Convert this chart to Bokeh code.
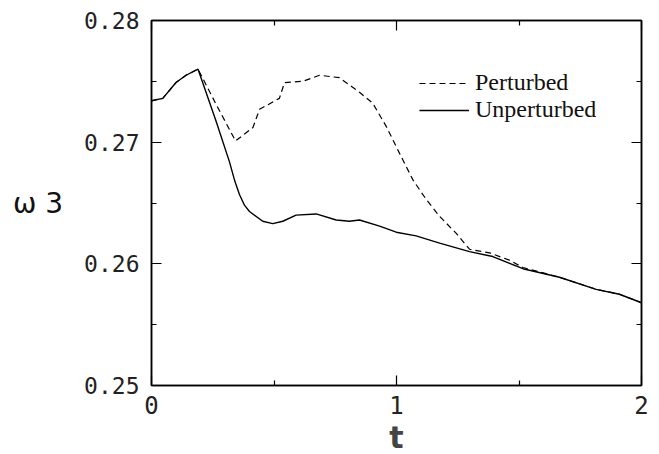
from bokeh.plotting import figure
from bokeh.models import (LinearAxis, FixedTicker, Range1d, Legend, LegendItem)
from bokeh.embed import file_html
from bokeh.resources import INLINE

# ---- data ----
t_unperturbed = [0.0, 0.046, 0.10, 0.141, 0.19, 0.264, 0.318, 0.34, 0.359, 0.38, 0.40, 0.454,
                 0.495, 0.536, 0.59, 0.672, 0.754, 0.808, 0.849, 0.931, 0.999, 1.08, 1.176,
                 1.298, 1.393, 1.516, 1.665, 1.815, 1.91, 2.0]
w3_unperturbed = [0.2734, 0.2736, 0.2749, 0.2755, 0.2760, 0.2717, 0.2684, 0.2668, 0.2657,
                  0.2648, 0.2643, 0.2635, 0.2633, 0.2635, 0.2640, 0.2641, 0.2636, 0.2635,
                  0.2636, 0.2631, 0.2626, 0.2623, 0.2617, 0.2610, 0.2606, 0.2596, 0.2589,
                  0.2579, 0.2575, 0.2568]

t_perturbed = [0.0, 0.046, 0.10, 0.141, 0.19, 0.264, 0.343, 0.414, 0.441, 0.522, 0.543,
               0.617, 0.686, 0.767, 0.849, 0.903, 0.958, 1.012, 1.067, 1.121, 1.176,
               1.244, 1.298, 1.38, 1.461, 1.516, 1.665, 1.815, 1.91, 2.0]
w3_perturbed = [0.2734, 0.2736, 0.2749, 0.2755, 0.2760, 0.2731, 0.2701, 0.2712, 0.2727,
                0.2736, 0.2749, 0.2750, 0.2755, 0.2753, 0.2741, 0.2732, 0.2713, 0.2691,
                0.2669, 0.2653, 0.2639, 0.2625, 0.2612, 0.2609, 0.2603, 0.2597, 0.2589,
                0.2579, 0.2575, 0.2568]

x_major = [0, 1, 2]
x_minor = [0.5, 1.5]
y_major = [0.25, 0.26, 0.27, 0.28]
y_minor = [0.255, 0.265, 0.275]
y_labels = {0.25: "0.25", 0.26: "0.26", 0.27: "0.27", 0.28: "0.28"}

series_names = ["Perturbed", "Unperturbed"]
x_label = "t"
y_label = "ω 3"

p = figure(frame_width=490, frame_height=365, output_backend="svg", toolbar_location=None,
           x_range=Range1d(0, 2), y_range=Range1d(0.25, 0.28),
           x_axis_location=None, y_axis_location=None,
           min_border_left=151, min_border_top=20, min_border_right=10, min_border_bottom=10)
p.background_fill_color = "white"
p.border_fill_color = "white"
p.outline_line_color = "black"
p.outline_line_width = 1.5
p.xgrid.visible = False
p.ygrid.visible = False

xt = FixedTicker(ticks=x_major, minor_ticks=x_minor)
yt = FixedTicker(ticks=y_major, minor_ticks=y_minor)

def style(ax, labels=True):
    ax.axis_line_color = "black"
    ax.axis_line_width = 1.5
    ax.major_tick_in = 10
    ax.major_tick_out = 0
    ax.minor_tick_in = 5
    ax.minor_tick_out = 0
    ax.major_tick_line_color = "black"
    ax.minor_tick_line_color = "black"
    ax.major_tick_line_width = 1.2
    ax.minor_tick_line_width = 1.2
    if not labels:
        ax.major_label_text_color = None
        ax.major_label_text_font_size = "0px"

left = LinearAxis(ticker=yt, major_label_overrides=y_labels, axis_label=y_label)
style(left)
left.major_label_text_font = "DejaVu Sans Mono"
left.major_label_text_font_size = "23px"
left.major_label_text_color = "#222222"
left.major_label_standoff = 12
left.axis_label_orientation = "horizontal"
left.axis_label_text_font = "DejaVu Sans"
left.axis_label_text_font_style = "normal"
left.axis_label_text_font_size = "28px"
left.axis_label_text_color = "#111111"
left.axis_label_standoff = 18
p.add_layout(left, "left")

bottom = LinearAxis(ticker=xt, axis_label=x_label)
style(bottom)
bottom.major_label_text_font = "DejaVu Sans Mono"
bottom.major_label_text_font_size = "24px"
bottom.major_label_text_color = "#222222"
bottom.major_label_standoff = 10
bottom.axis_label_text_font = "DejaVu Sans"
bottom.axis_label_text_font_style = "bold"
bottom.axis_label_text_font_size = "30px"
bottom.axis_label_standoff = 3
p.add_layout(bottom, "below")

right = LinearAxis(ticker=yt)
style(right, labels=False)
p.add_layout(right, "right")
top = LinearAxis(ticker=xt)
style(top, labels=False)
p.add_layout(top, "above")

r_pert = p.line(t_perturbed, w3_perturbed, line_color="black", line_width=1.2,
                line_dash="6 4")
r_unp = p.line(t_unperturbed, w3_unperturbed, line_color="black", line_width=1.4)

def make_legend(name, renderer, loc):
    lg = Legend(items=[LegendItem(label=name, renderers=[renderer])], location=loc)
    lg.label_text_font = "Liberation Serif"
    lg.label_text_font_size = "24px"
    lg.label_text_color = "#111111"
    lg.glyph_width = 50
    lg.glyph_height = 20
    lg.label_height = 20
    lg.label_standoff = 6
    lg.padding = 0
    lg.margin = 0
    lg.border_line_color = None
    lg.background_fill_alpha = 0
    return lg

p.add_layout(make_legend(series_names[0], r_pert, (268, 289)), "center")
p.add_layout(make_legend(series_names[1], r_unp, (268, 262)), "center")

open("out.html", "w").write(file_html(p, INLINE))
